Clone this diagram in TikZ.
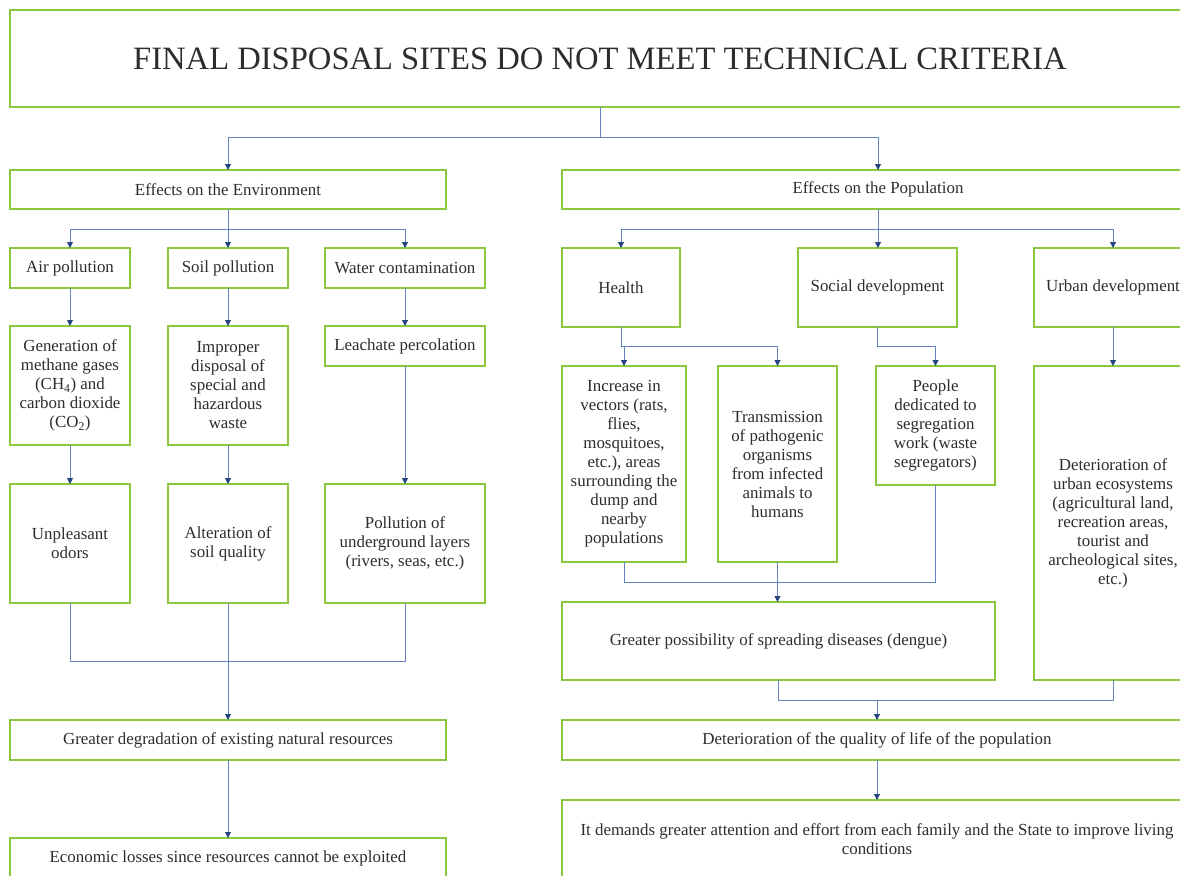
\documentclass[tikz,border=0pt]{standalone}
\usepackage{fontspec}
\setmainfont{Liberation Serif}
\usetikzlibrary{arrows.meta}
\definecolor{boxgreen}{RGB}{141,198,63}
\definecolor{linkblue}{RGB}{100,130,190}
\definecolor{tipblue}{RGB}{36,69,127}
\definecolor{txt}{RGB}{45,45,45}
\tikzset{
  box/.style={draw=boxgreen, line width=2.5pt, fill=white, rectangle,
    inner sep=0pt, outer sep=0pt, align=center, text=txt,
    font=\fontsize{16.9}{19}\selectfont},
  link/.style={draw=linkblue, line width=1pt},
  arr/.style={link, -{Triangle[width=6pt,length=6pt,color=tipblue]}}
}
% \flowbox{name}{left}{top}{width}{height}{text}
\newcommand\flowbox[6]{%
  \node[box, minimum width=#4pt, minimum height=#5pt, anchor=north west]
    (#1) at (#2,#3) {#6};}
\begin{document}
\begin{tikzpicture}[x=1pt,y=-1pt]
\useasboundingbox (0,0) rectangle (1180,875);
\clip (0,0) rectangle (1180,875);
\fill[white] (0,0) rectangle (1180,875);

% top
\node[box, minimum width=1180pt, minimum height=97pt, anchor=north west,
  font=\fontsize{32.6}{38}\selectfont] (title) at (10,10)
  {FINAL DISPOSAL SITES DO NOT MEET TECHNICAL CRITERIA};
\flowbox{env}{10}{170}{436}{39}{Effects on the Environment}
\flowbox{pop}{562}{170}{632}{39}{Effects on the Population}

% environment branch
\flowbox{air}{10}{248}{120}{40}{Air pollution}
\flowbox{soil}{168}{248}{120}{40}{Soil pollution}
\flowbox{water}{325}{248}{160}{40}{Water contamination}
\flowbox{gen}{10}{326}{120}{119}{Generation of\\methane gases\\(CH\textsubscript{4}) and\\carbon dioxide\\(CO\textsubscript{2})}
\flowbox{improper}{168}{326}{120}{119}{Improper\\disposal of\\special and\\hazardous\\waste}
\flowbox{leach}{325}{326}{160}{40}{Leachate percolation}
\flowbox{odors}{10}{484}{120}{119}{Unpleasant\\odors}
\flowbox{alter}{168}{484}{120}{119}{Alteration of\\soil quality}
\flowbox{under}{325}{484}{160}{119}{Pollution of\\underground layers\\(rivers, seas, etc.)}
\flowbox{degr}{10}{720}{436}{40}{Greater degradation of existing natural resources}
\flowbox{econ}{10}{838}{436}{40}{Economic losses since resources cannot be exploited}

% population branch
\flowbox{health}{562}{248}{118}{79}{Health}
\flowbox{social}{798}{248}{159}{79}{Social development}
\flowbox{urban}{1034}{248}{158}{79}{Urban development}
\flowbox{incr}{562}{366}{124}{196}{Increase in\\vectors (rats,\\flies,\\mosquitoes,\\etc.), areas\\surrounding the\\dump and\\nearby\\populations}
\flowbox{trans}{718}{366}{119}{196}{Transmission\\of pathogenic\\organisms\\from infected\\animals to\\humans}
\flowbox{people}{876}{366}{119}{119}{People\\dedicated to\\segregation\\work (waste\\segregators)}
\flowbox{urbdet}{1034}{366}{158}{314}{Deterioration of\\urban ecosystems\\(agricultural land,\\recreation areas,\\tourist and\\archeological sites,\\etc.)}
\flowbox{spread}{562}{602}{433}{78}{Greater possibility of spreading diseases (dengue)}
\flowbox{qol}{562}{720}{630}{40}{Deterioration of the quality of life of the population}
\flowbox{demand}{562}{800}{630}{78}{It demands greater attention and effort from each family and the State to improve living\\conditions}

% connectors: top level
\draw[link] (title.south) -- ++(0,30) coordinate (tj);
\draw[arr] (tj) -| (env.north);
\draw[arr] (tj) -| (pop.north);

% connectors: environment
\draw[link] (env.south) -- ++(0,20) coordinate (ej);
\draw[arr] (ej) -| (air.north);
\draw[arr] (ej) -- (soil.north);
\draw[arr] (ej) -| (water.north);
\draw[arr] (air.south) -- (gen.north);
\draw[arr] (gen.south) -- (odors.north);
\draw[arr] (soil.south) -- (improper.north);
\draw[arr] (improper.south) -- (alter.north);
\draw[arr] (water.south) -- (leach.north);
\draw[arr] (leach.south) -- (under.north);
\draw[link] (odors.south) -- ++(0,58) -| (under.south);
\draw[arr] (alter.south) -- (alter.south |- degr.north);
\draw[arr] (degr.south) -- (econ.north);

% connectors: population
\draw[link] (pop.south) -- ++(0,20) coordinate (pj);
\draw[arr] (pj) -| (health.north);
\draw[arr] (pj) -- (pj |- social.north);
\draw[arr] (pj) -| (urban.north);
\draw[link] (health.south) -- ++(0,19) coordinate (hj);
\draw[arr] (hj) -| (incr.north);
\draw[arr] (hj) -| (trans.north);
\draw[arr] (social.south) -- ++(0,19) -| (people.north);
\draw[arr] (urban.south) -- (urbdet.north);
\draw[link] (incr.south) -- ++(0,20) -| (people.south);
\draw[arr] (trans.south) -- (trans.south |- spread.north);
\draw[link] (spread.south) -- ++(0,20) coordinate (sj) -| (urbdet.south);
\draw[arr] (sj -| qol.north) -- (qol.north);
\draw[arr] (qol.south) -- (demand.north);
\end{tikzpicture}
\end{document}
